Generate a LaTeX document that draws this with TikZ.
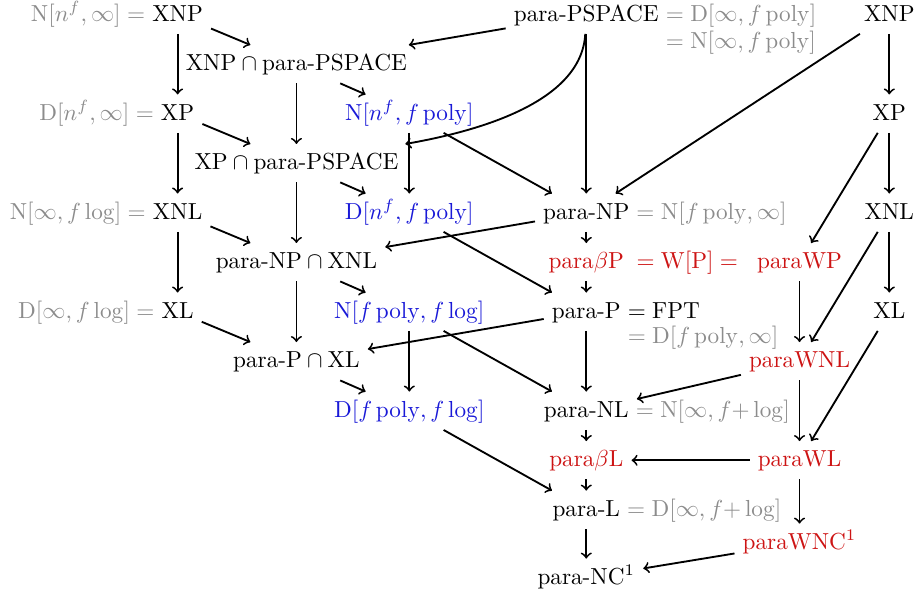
\documentclass[tikz,border=0pt]{standalone}
\usepackage{amsmath}
\usetikzlibrary{positioning}
\definecolor{clsblue}{RGB}{25,25,215}
\definecolor{clsred}{RGB}{205,20,20}
\definecolor{eqgray}{RGB}{140,140,140}
\tikzset{
  >=to,
  cls/.style={text=#1,anchor=base,text height=1.75ex,text depth=.45ex},
  cls/.default=black,
  eq/.style={cls=eqgray},
  incl/.style={->,thick},
}
\begin{document}
\begin{tikzpicture}
  \useasboundingbox (0,0.32) rectangle (13.95,-8.62);
  % left column
  \node[cls] (xnpL) at (2.69,0) {XNP};
  \node[cls] (xpL) at (2.69,-1.5) {XP};
  \node[cls] (xnlL) at (2.69,-3) {XNL};
  \node[cls] (xlL) at (2.69,-4.5) {XL};
  \node[eq,base left=-4pt of xnpL] (xnpLeq) {$\mathrm{N}[n^f,\infty] =$};
  \node[eq,base left=-4pt of xpL] (xpLeq) {$\mathrm{D}[n^f,\infty] =$};
  \node[eq,base left=-4pt of xnlL] (xnlLeq) {$\mathrm{N}[\infty,f\log] =$};
  \node[eq,base left=-4pt of xlL] (xlLeq) {$\mathrm{D}[\infty,f\log] =$};
  % intersections
  \node[cls] (xnpPS) at (4.49,-0.75) {$\mathrm{XNP}\cap\text{para-PSPACE}$};
  \node[cls] (xpPS) at (4.49,-2.25) {$\mathrm{XP}\cap\text{para-PSPACE}$};
  \node[cls] (pnpXNL) at (4.49,-3.75) {$\text{para-NP}\cap\mathrm{XNL}$};
  \node[cls] (ppXL) at (4.49,-5.25) {$\text{para-P}\cap\mathrm{XL}$};
  % time-space classes
  \node[cls=clsblue] (nPoly) at (6.2,-1.5) {$\mathrm{N}[n^f,f\operatorname{poly}]$};
  \node[cls=clsblue] (dPoly) at (6.2,-3) {$\mathrm{D}[n^f,f\operatorname{poly}]$};
  \node[cls=clsblue] (nLog) at (6.2,-4.5) {$\mathrm{N}[f\operatorname{poly},f\log]$};
  \node[cls=clsblue] (dLog) at (6.2,-6) {$\mathrm{D}[f\operatorname{poly},f\log]$};
  % para classes
  \node[cls] (pspace) at (8.88,0) {para-PSPACE};
  \node[eq,base right=-4pt of pspace] (pspaceD) {$= \mathrm{D}[\infty,f\operatorname{poly}]$};
  \node[eq,anchor=base west] (pspaceN) at ([yshift=-0.41cm]pspaceD.base west) {$= \mathrm{N}[\infty,f\operatorname{poly}]$};
  \node[cls] (pnp) at (8.88,-3) {para-NP};
  \node[eq,base right=-4pt of pnp] (pnpN) {$= \mathrm{N}[f\operatorname{poly},\infty]$};
  \node[cls=clsred] (pbetaP) at (8.88,-3.75) {para$\beta$P};
  \node[cls=clsred] (wpEq) at (10.41,-3.75) {$= \mathrm{W}[\mathrm{P}] =$};
  \node[cls] (pp) at (8.88,-4.5) {para-P};
  \node[cls,base right=-4pt of pp] (ppFpt) {$= \mathrm{FPT}$};
  \node[eq,anchor=base west] (ppD) at ([yshift=-0.385cm]ppFpt.base west) {$= \mathrm{D}[f\operatorname{poly},\infty]$};
  \node[cls] (pnl) at (8.88,-6) {para-NL};
  \node[eq,base right=-4pt of pnl] (pnlN) {$= \mathrm{N}[\infty,f{+}\log]$};
  \node[cls=clsred] (pbetaL) at (8.88,-6.75) {para$\beta$L};
  \node[cls] (pl) at (8.88,-7.5) {para-L};
  \node[eq,base right=-4pt of pl] (plD) {$= \mathrm{D}[\infty,f{+}\log]$};
  \node[cls] (pnc) at (8.88,-8.53) {para-NC$^1$};
  % weft classes
  \node[cls=clsred] (wp) at (12.11,-3.75) {paraWP};
  \node[cls=clsred] (wnl) at (12.11,-5.25) {paraWNL};
  \node[cls=clsred] (wl) at (12.11,-6.75) {paraWL};
  \node[cls=clsred] (wnc) at (12.11,-8) {paraWNC$^1$};
  % right column
  \node[cls] (xnpR) at (13.47,0) {XNP};
  \node[cls] (xpR) at (13.47,-1.5) {XP};
  \node[cls] (xnlR) at (13.47,-3) {XNL};
  \node[cls] (xlR) at (13.47,-4.5) {XL};
  % inclusions
  \draw[incl] (xnpL) -- (xpL); \draw[incl] (xpL) -- (xnlL); \draw[incl] (xnlL) -- (xlL);
  \draw[incl] (xnpL) -- (xnpPS); \draw[incl] (xpL) -- (xpPS); \draw[incl] (xnlL) -- (pnpXNL); \draw[incl] (xlL) -- (ppXL);
  \draw[incl] (xnpPS) -- (xpPS); \draw[incl] (xpPS) -- (pnpXNL); \draw[incl] (pnpXNL) -- (ppXL);
  \draw[incl] (xnpPS) -- (nPoly); \draw[incl] (xpPS) -- (dPoly); \draw[incl] (pnpXNL) -- (nLog); \draw[incl] (ppXL) -- (dLog);
  \draw[incl] (nPoly) -- (dPoly); \draw[incl] (nLog) -- (dLog);
  \draw[incl] (nPoly) -- (pnp); \draw[incl] (dPoly) -- (pp); \draw[incl] (nLog) -- (pnl); \draw[incl] (dLog) -- (pl);
  \draw[incl] (pspace) -- (xnpPS);
  \draw[incl] (pspace) to[out=-93,in=10,looseness=0.85] (xpPS);
  \draw[incl] (pnp) -- (pnpXNL); \draw[incl] (pp) -- (ppXL);
  \draw[incl] (pspace) -- (pnp); \draw[incl] (pnp) -- (pbetaP); \draw[incl] (pbetaP) -- (pp);
  \draw[incl] (pp) -- (pnl); \draw[incl] (pnl) -- (pbetaL); \draw[incl] (pbetaL) -- (pl); \draw[incl] (pl) -- (pnc);
  \draw[incl] (xnpR) -- (pnp); \draw[incl] (xnpR) -- (xpR); \draw[incl] (xpR) -- (xnlR); \draw[incl] (xnlR) -- (xlR);
  \draw[incl] (xpR) -- (wp); \draw[incl] (xnlR) -- (wnl); \draw[incl] (xlR) -- (wl);
  \draw[incl] (wp) -- (wnl); \draw[incl] (wnl) -- (wl); \draw[incl] (wl) -- (wnc);
  \draw[incl] (wnl) -- (pnl); \draw[incl] (wl) -- (pbetaL); \draw[incl] (wnc) -- (pnc);
\end{tikzpicture}
\end{document}
